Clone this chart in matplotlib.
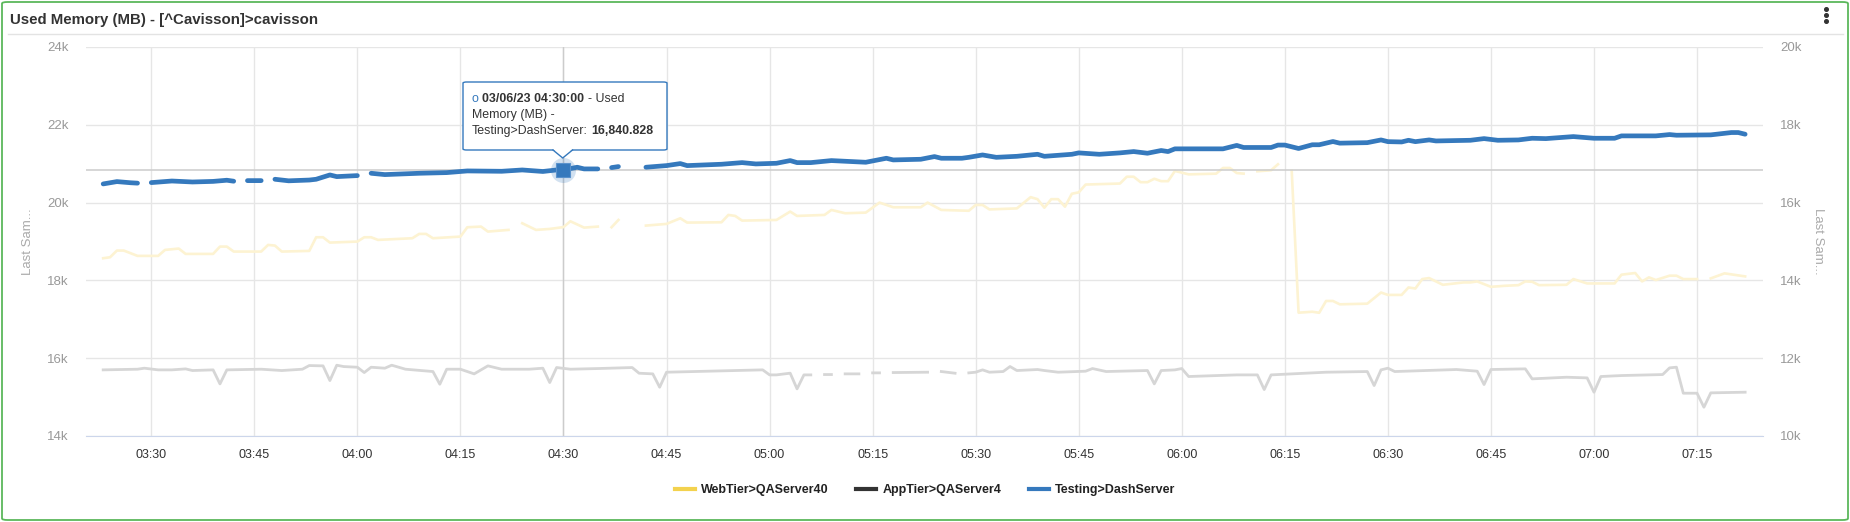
import numpy as np
import pandas as pd
import matplotlib
matplotlib.use('Agg')
import matplotlib.pyplot as plt
import matplotlib.dates as mdates
from matplotlib.lines import Line2D
from matplotlib.patches import FancyBboxPatch, Polygon

plt.rcParams['font.family'] = ['Liberation Sans', 'DejaVu Sans']

nan = np.nan
day = '2023-03-06 '

# WebTier>QAServer40 (left axis)
web_times = ['03:23', '03:24', '03:25', '03:26', '03:28', '03:31', '03:32', '03:34', '03:35', '03:39',
             '03:40', '03:41', '03:42', '03:46', '03:47', '03:48', '03:49', '03:53', '03:54', '03:55',
             '03:56', '04:00', '04:01', '04:02', '04:03', '04:08', '04:09', '04:10', '04:11', '04:15',
             '04:16', '04:18', '04:19', '04:22', '04:23', '04:24', '04:26', '04:28', '04:30', '04:31',
             '04:33', '04:35', '04:36', '04:37', '04:38', '04:39', '04:42', '04:45', '04:47', '04:48',
             '04:53', '04:54', '04:55', '04:56', '05:01', '05:03', '05:04', '05:08', '05:09', '05:11',
             '05:14', '05:16', '05:18', '05:22', '05:23', '05:25', '05:29', '05:30', '05:31', '05:32',
             '05:36', '05:38', '05:39', '05:40', '05:41', '05:42', '05:43', '05:44', '05:45', '05:46',
             '05:51', '05:52', '05:53', '05:54', '05:55', '05:56', '05:57', '05:58', '05:59', '06:01',
             '06:05', '06:06', '06:07', '06:08', '06:09', '06:10', '06:11', '06:13', '06:14', '06:15',
             '06:16', '06:17', '06:19', '06:20', '06:21', '06:22', '06:23', '06:27', '06:29', '06:30',
             '06:32', '06:33', '06:34', '06:35', '06:36', '06:38', '06:41', '06:42', '06:43', '06:45',
             '06:47', '06:49', '06:50', '06:51', '06:52', '06:56', '06:57', '06:59', '07:03', '07:04',
             '07:06', '07:07', '07:08', '07:09', '07:11', '07:12', '07:13', '07:15', '07:16', '07:17',
             '07:19', '07:22']
web_vals = [18570, 18595, 18767, 18767, 18630, 18630, 18784, 18818, 18681, 18681,
            18869, 18869, 18741, 18741, 18912, 18895, 18741, 18758, 19109, 19109,
            18972, 18998, 19109, 19109, 19041, 19084, 19195, 19195, 19084, 19126,
            19366, 19383, 19255, 19298, nan, 19469, 19298, 19323, 19370, 19520,
            19357, 19383, nan, 19366, 19554, nan, 19409, 19452, 19597, 19486,
            19494, 19683, 19657, 19537, 19554, 19769, 19657, 19683, 19811, 19726,
            19743, 20000, 19880, 19880, 20000, 19811, 19790, 19939, 19939, 19825,
            19851, 20140, 20088, 19869, 20088, 20088, 19895, 20228, 20263, 20464,
            20490, 20665, 20665, 20525, 20525, 20613, 20551, 20551, 20814, 20726,
            20744, 20890, 20890, 20760, 20745, nan, 20805, 20831, 20985, nan,
            20820, 17170, 17194, 17168, 17471, 17471, 17385, 17402, 17688, 17627,
            17627, 17818, 17792, 18034, 18060, 17887, 17948, 17948, 17974, 17835,
            17861, 17878, 17974, 17965, 17878, 17887, 18034, 17922, 17922, 18147,
            18190, 17974, 18078, 18009, 18121, 18121, 18034, 18034, nan, 18052,
            18181, 18103]

# AppTier>QAServer4 (left axis)
app_times = ['03:23', '03:28', '03:29', '03:31', '03:33', '03:35', '03:36', '03:39', '03:40', '03:41',
             '03:46', '03:49', '03:52', '03:53', '03:55', '03:56', '03:57', '03:58', '04:00', '04:01',
             '04:02', '04:04', '04:05', '04:07', '04:11', '04:12', '04:13', '04:15', '04:17', '04:19',
             '04:21', '04:25', '04:27', '04:28', '04:29', '04:31', '04:35', '04:40', '04:41', '04:43',
             '04:44', '04:45', '04:49', '04:59', '05:00', '05:01', '05:03', '05:04', '05:05', '05:06',
             '05:07', '05:08', '05:09', '05:10', '05:11', '05:13', '05:14', '05:15', '05:16', '05:17',
             '05:18', '05:23', '05:24', '05:25', '05:27', '05:28', '05:29', '05:30', '05:31', '05:32',
             '05:34', '05:35', '05:36', '05:39', '05:40', '05:42', '05:46', '05:47', '05:49', '05:55',
             '05:56', '05:57', '05:59', '06:00', '06:01', '06:08', '06:11', '06:12', '06:13', '06:21',
             '06:27', '06:28', '06:29', '06:30', '06:31', '06:40', '06:43', '06:44', '06:45', '06:50',
             '06:51', '06:54', '06:56', '06:59', '07:00', '07:01', '07:04', '07:10', '07:11', '07:12',
             '07:13', '07:15', '07:16', '07:17', '07:22']
app_vals = [15700, 15717, 15743, 15700, 15700, 15725, 15683, 15700, 15339, 15700,
            15717, 15683, 15717, 15811, 15803, 15425, 15820, 15785, 15768, 15631,
            15768, 15743, 15820, 15717, 15657, 15331, 15717, 15717, 15597, 15803,
            15717, 15717, 15743, 15374, 15760, 15717, 15734, 15760, 15614, 15597,
            15254, 15640, 15657, 15700, 15571, 15571, 15615, 15212, 15571, 15571,
            nan, 15580, 15580, nan, 15597, 15597, nan, 15623, 15623, nan,
            15631, 15640, nan, 15657, 15614, nan, 15623, 15640, 15700, 15640,
            15657, 15786, 15683, 15709, 15683, 15640, 15666, 15734, 15657, 15683,
            15340, 15683, 15700, 15734, 15529, 15571, 15571, 15194, 15571, 15640,
            15657, 15297, 15700, 15743, 15657, 15709, 15666, 15323, 15709, 15726,
            15469, 15494, 15511, 15494, 15126, 15529, 15554, 15580, 15751, 15769,
            15100, 15100, 14740, 15109, 15126]

# Testing>DashServer (right axis)
dash_times = ['03:23', '03:25', '03:27', '03:28', '03:29', '03:30', '03:33', '03:36', '03:39', '03:41',
              '03:42', '03:43', '03:44', '03:46', '03:47', '03:48', '03:50', '03:53', '03:54', '03:56',
              '03:57', '04:00', '04:01', '04:02', '04:04', '04:09', '04:13', '04:16', '04:21', '04:24',
              '04:27', '04:29', '04:30', '04:32', '04:33', '04:35', '04:36', '04:37', '04:38', '04:39',
              '04:42', '04:45', '04:47', '04:48', '04:53', '04:56', '04:58', '05:01', '05:03', '05:04',
              '05:06', '05:09', '05:14', '05:17', '05:18', '05:22', '05:24', '05:25', '05:28', '05:29',
              '05:31', '05:33', '05:36', '05:39', '05:40', '05:44', '05:45', '05:48', '05:51', '05:53',
              '05:55', '05:57', '05:58', '05:59', '06:02', '06:06', '06:08', '06:09', '06:13', '06:14',
              '06:15', '06:17', '06:19', '06:20', '06:22', '06:23', '06:27', '06:29', '06:30', '06:32',
              '06:33', '06:34', '06:36', '06:37', '06:42', '06:44', '06:46', '06:49', '06:51', '06:53',
              '06:57', '07:00', '07:03', '07:04', '07:09', '07:11', '07:12', '07:17', '07:20', '07:21',
              '07:22']
dash_vals = [16480, 16540, 16510, 16500, nan, 16514, 16555, 16530, 16545, 16575,
             16550, nan, 16565, 16565, nan, 16600, 16560, 16580, 16600, 16711,
             16668, 16694, nan, 16754, 16720, 16754, 16771, 16814, 16805, 16839,
             16800, 16839, 16840.828, 16909, 16866, 16866, nan, 16900, 16926, nan,
             16909, 16951, 17003, 16951, 16986, 17028, 16994, 17011, 17080, 17028,
             17028, 17080, 17037, 17140, 17097, 17114, 17183, 17140, 17140, 17164,
             17225, 17164, 17190, 17242, 17190, 17242, 17278, 17242, 17278, 17312,
             17269, 17339, 17312, 17382, 17382, 17382, 17470, 17417, 17417, 17479,
             17479, 17391, 17487, 17487, 17570, 17528, 17541, 17611, 17567, 17559,
             17602, 17567, 17611, 17585, 17602, 17645, 17602, 17611, 17654, 17645,
             17697, 17654, 17654, 17715, 17715, 17749, 17732, 17741, 17801, 17801,
             17758]

series_names = ['WebTier>QAServer40', 'AppTier>QAServer4', 'Testing>DashServer']
hover_time = '04:30'
hover_value = 16840.828

W, H = 1850, 522


def fx(px):
    return px / W


def fy(py):
    return 1 - py / H


def to_dt(ts):
    return pd.to_datetime([day + t for t in ts])


fig = plt.figure(figsize=(W / 100, H / 100), dpi=100)
ax = fig.add_axes([fx(86), fy(436), (1763 - 86) / W, (436 - 47) / H])
ax2 = ax.twinx()

ax.plot(to_dt(web_times), web_vals, color='#fdf3d2', lw=1.9, zorder=3)
ax.plot(to_dt(app_times), app_vals, color='#d6d6d6', lw=2.0, zorder=3)
ax2.plot(to_dt(dash_times), dash_vals, color='#3579bd', lw=3.4, zorder=3,
         solid_capstyle='round')

ax.set_xlim(pd.Timestamp(day + '03:20:30'), pd.Timestamp(day + '07:24:36'))
ax.set_ylim(14000, 24000)
ax2.set_ylim(10000, 20000)
lt = np.arange(14000, 24001, 2000)
rt = np.arange(10000, 20001, 2000)
ax.set_yticks(lt)
ax.set_yticklabels([f'{v // 1000}k' for v in lt])
ax2.set_yticks(rt)
ax2.set_yticklabels([f'{v // 1000}k' for v in rt])

ax.xaxis.set_major_locator(mdates.MinuteLocator(byminute=[0, 15, 30, 45]))
ax.xaxis.set_major_formatter(mdates.DateFormatter('%H:%M'))

ax.grid(True, color='#e6e6e6', lw=1)
ax.set_axisbelow(True)
for s in ['top', 'left', 'right']:
    ax.spines[s].set_visible(False)
ax.spines['bottom'].set_color('#ccd6eb')
for s in ax2.spines.values():
    s.set_visible(False)

ax.tick_params(axis='y', length=0, pad=12.5, labelsize=9.5, labelcolor='#999999')
ax2.tick_params(axis='y', length=0, pad=12.5, labelsize=9.5, labelcolor='#999999')
ax.tick_params(axis='x', length=0, pad=9, labelsize=9, labelcolor='#333333')

ax.set_ylabel('Last Sam...', color='#aaaaaa', fontsize=9.5, va='center')
ax.yaxis.set_label_coords((28 - 86) / 1677, 0.5)
ax2.set_ylabel('Last Sam...', color='#aaaaaa', fontsize=9.5, rotation=270, va='center')
ax2.yaxis.set_label_coords((1818 - 86) / 1677, 0.5)

# hover crosshair and marker
ht = pd.Timestamp(day + hover_time)
ax.axvline(ht, color='#cccccc', lw=1, zorder=2)
ax2.axhline(hover_value, color='#cccccc', lw=1.1, zorder=2)
ax2.plot([ht], [hover_value], marker='o', ms=18, color='#3579bd', alpha=0.22, mec='none', zorder=4)
ax2.plot([ht], [hover_value], marker='s', ms=10.5, color='#3579bd', mec='#5a92cc', mew=0.8, zorder=5)

# tooltip
box = FancyBboxPatch((fx(463), fy(150)), (667 - 463) / W, (150 - 82) / H,
                     boxstyle='round,pad=0,rounding_size=0.002', transform=fig.transFigure,
                     fc='white', ec='#3579bd', lw=1, zorder=10)
fig.add_artist(box)
fig.add_artist(Polygon([(fx(553), fy(149)), (fx(572.5), fy(149)), (fx(562.7), fy(158))],
                       closed=True, fc='white', ec='none', transform=fig.transFigure, zorder=11))
fig.add_artist(Line2D([fx(553), fx(562.7), fx(572.5)], [fy(150), fy(158), fy(150)],
                      color='#3579bd', lw=1, transform=fig.transFigure, zorder=12))

r = fig.canvas.get_renderer()
sp = 3.4


def chain(x, y, parts):
    for s, w, c, gap in parts:
        t = fig.text(fx(x), fy(y), s, fontsize=8.9, fontweight=w, color=c,
                     ha='left', va='center', zorder=13)
        x += t.get_window_extent(renderer=r).width + gap


chain(472, 99, [('o', 'normal', '#3579bd', sp), ('03/06/23 04:30:00', 'bold', '#333333', sp),
                ('- Used', 'normal', '#333333', 0)])
chain(472, 115, [('Memory (MB) -', 'normal', '#333333', 0)])
chain(472, 131, [('Testing>DashServer:', 'normal', '#333333', sp),
                 ('16,840.828', 'bold', '#333333', 0)])

# panel header and frame
fig.text(fx(10), fy(20), 'Used Memory (MB) - [^Cavisson]>cavisson', fontsize=10.8,
         fontweight='bold', color='#333333', ha='left', va='center')
fig.add_artist(Line2D([fx(8), fx(1843)], [fy(34), fy(34)], color='#e3e3e3', lw=1,
                      transform=fig.transFigure))
fig.add_artist(Line2D([fx(1826)] * 3, [fy(9), fy(15), fy(21)], ls='none', marker='o', ms=2.6,
                      color='#333333', transform=fig.transFigure))
frame = FancyBboxPatch((fx(2), fy(520)), (1848 - 2) / W, (520 - 2) / H,
                       boxstyle='round,pad=0,rounding_size=0.003', transform=fig.transFigure,
                       fc='none', ec='#5cb85c', lw=1.3)
fig.add_artist(frame)

handles = [Line2D([], [], color=c, lw=3) for c in ['#f3d24e', '#333333', '#3579bd']]
fig.legend(handles, series_names, loc='center', bbox_to_anchor=(0.5, fy(490)), ncol=3,
           frameon=False, prop={'weight': 'bold', 'size': 9}, labelcolor='#222222',
           handlelength=1.6, handletextpad=0.5, columnspacing=2.2)

fig.savefig('out.png', dpi=100)
